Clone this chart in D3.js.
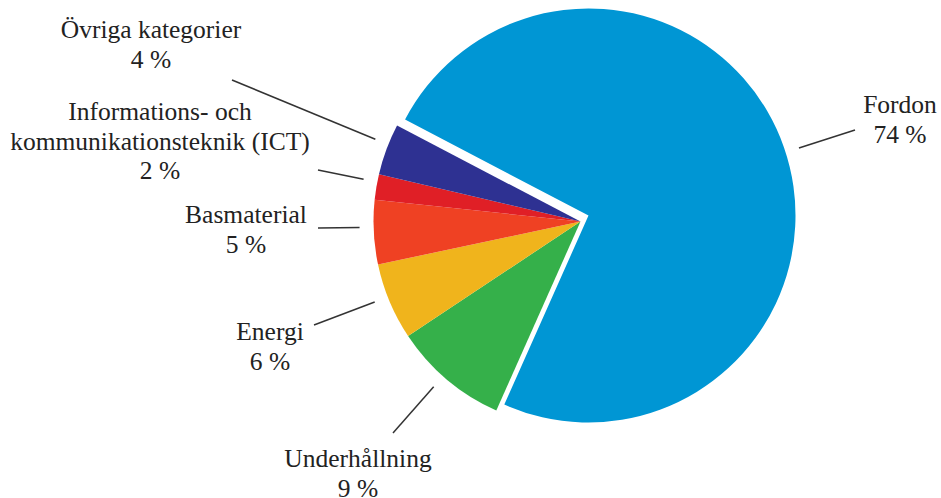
<!DOCTYPE html>
<html>
<head>
<meta charset="utf-8">
<script src="https://cdn.jsdelivr.net/npm/d3@7"></script>
<style>
  html, body { margin: 0; padding: 0; background: #ffffff; }
  svg { display: block; }
</style>
</head>
<body>
<svg id="chart" width="941" height="498"></svg>
<script>
// ---- data ----
const categories = ["Fordon", "Underhållning", "Energi", "Basmaterial", "Informations- och kommunikationsteknik (ICT)", "Övriga kategorier"];
const labelLines = [
  ["Fordon"],
  ["Underhållning"],
  ["Energi"],
  ["Basmaterial"],
  ["Informations- och", "kommunikationsteknik (ICT)"],
  ["Övriga kategorier"]
];
const values = [74, 9, 6, 5, 2, 4];
const colors = ["#0096d4", "#35b04a", "#f0b41c", "#ef4123", "#e01f26", "#2e3192"];

// ---- layout (not data) ----
const W = 941, H = 498;
const cx = 580.5, cy = 221.5, R = 207;
const startDeg = -62.4;
const explode = [[8, -6], [0, 0], [0, 0], [0, 0], [0, 0], [0, 0]];
// label anchor: text centre x, first baseline y, line outer end x,y
const labelLayout = [
  {x: 900, y: 113, lx: 855, ly: 130},
  {x: 358, y: 467, lx: 393, ly: 433},
  {x: 270, y: 340, lx: 314, ly: 325},
  {x: 246, y: 223, lx: 318, ly: 228},
  {x: 160, y: 120, lx: 318, ly: 170},
  {x: 151, y: 38,  lx: 232, ly: 80}
];
const fontSize = 25.5, lineH = 29.5;
const fontFamily = "'Liberation Serif', 'DejaVu Serif', 'Times New Roman', Times, serif";

const svg = d3.select("#chart");
const data = categories.map((c, i) => ({name: c, value: values[i], i}));

const pie = d3.pie().value(d => d.value).sort(null)
  .startAngle(startDeg * Math.PI / 180)
  .endAngle(startDeg * Math.PI / 180 + 2 * Math.PI);
const arcs = pie(data);
const arc = d3.arc().innerRadius(0).outerRadius(R);

const g = svg.append("g").attr("transform", `translate(${cx},${cy})`);

g.selectAll("path.slice").data(arcs).join("path")
  .attr("class", "slice")
  .attr("transform", d => `translate(${explode[d.index][0]},${explode[d.index][1]})`)
  .attr("d", arc)
  .attr("fill", d => colors[d.index]);

// leader lines
g.selectAll("line.leader").data(arcs).join("line")
  .attr("class", "leader")
  .attr("x1", d => {
    const a = (d.startAngle + d.endAngle) / 2 + 0.025;
    return explode[d.index][0] + Math.sin(a) * (R + 14);
  })
  .attr("y1", d => {
    const a = (d.startAngle + d.endAngle) / 2 + 0.025;
    return explode[d.index][1] - Math.cos(a) * (R + 14);
  })
  .attr("x2", d => labelLayout[d.index].lx - cx)
  .attr("y2", d => labelLayout[d.index].ly - cy)
  .attr("stroke", "#333333")
  .attr("stroke-width", 1.5);

// labels
const lbl = svg.selectAll("text.lbl").data(arcs).join("text")
  .attr("class", "lbl")
  .attr("text-anchor", "middle")
  .attr("font-family", fontFamily)
  .style("font-family", fontFamily)
  .attr("fill", "#222222")
  .attr("font-size", fontSize);
lbl.each(function(d) {
  const t = d3.select(this);
  const L = labelLayout[d.index];
  const lines = labelLines[d.index].concat([values[d.index] + " %"]);
  lines.forEach((s, k) => {
    t.append("tspan").attr("x", L.x).attr("y", L.y + k * lineH).text(s);
  });
});
</script>
</body>
</html>
